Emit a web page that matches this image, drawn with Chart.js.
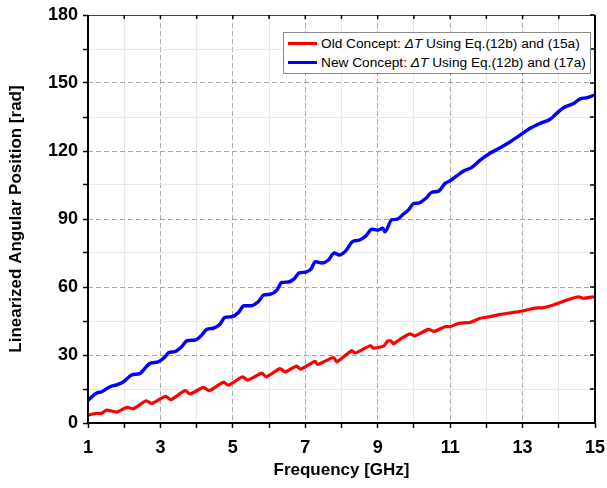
<!DOCTYPE html>
<html>
<head>
<meta charset="utf-8">
<script src="https://cdn.jsdelivr.net/npm/chart.js@4.4.1/dist/chart.umd.min.js"></script>
<style>
    html, body { margin: 0; padding: 0; background: #fff; }
    #wrap { position: relative; width: 607px; height: 488px; }
    #legend {
        position: absolute; left: 283px; top: 32px; width: 306px; height: 40px;
        border: 1px solid #8a8a8a; background: #fff;
        font-family: "Liberation Sans", Arial, sans-serif; font-size: 13.7px; color: #000;
        white-space: nowrap;
    }
    #legend .row { display: flex; align-items: center; height: 19px; padding-left: 4px; }
    #legend .row:first-child { margin-top: 1px; }
    #legend .swatch { width: 29px; height: 3px; margin-right: 4px; flex: none; }
</style>
</head>
<body>
<div id="wrap">
    <canvas id="chart" width="607" height="488"></canvas>
    <div id="legend"></div>
</div>
<script>
// 数据
const labelOld = 'Old Concept: ΔT Using Eq.(12b) and (15a)';
const labelNew = 'New Concept: ΔT Using Eq.(12b) and (17a)';

const freqNew = [1.00, 1.24, 1.38, 1.61, 1.79, 1.98, 2.21, 2.44, 2.57, 2.71, 2.94, 3.13, 3.22, 3.40, 3.59, 3.73, 3.96,
    4.14, 4.28, 4.46, 4.65, 4.78, 4.97, 5.15, 5.31, 5.49, 5.70, 5.86, 6.03, 6.21, 6.35, 6.53, 6.70, 6.83, 7.02, 7.16,
    7.28, 7.46, 7.64, 7.80, 7.94, 8.12, 8.31, 8.49, 8.67, 8.84, 9.00, 9.14, 9.20, 9.39, 9.53, 9.71, 9.85, 9.99, 10.13,
    10.34, 10.49, 10.68, 10.86, 11.00, 11.18, 11.37, 11.60, 11.83, 12.10, 12.38, 12.66, 12.93, 13.21, 13.49, 13.76,
    13.94, 14.13, 14.41, 14.59, 14.77, 15.00];
const valNew = [10.0, 13.2, 13.8, 16.0, 16.8, 18.2, 21.2, 21.9, 24.1, 26.3, 27.0, 29.2, 31.0, 31.5, 33.7, 36.3, 36.6,
    38.8, 41.3, 41.8, 43.7, 46.6, 46.9, 48.7, 51.7, 51.7, 53.5, 56.5, 56.8, 58.5, 62.0, 62.2, 63.7, 66.2, 66.6, 68.0,
    71.2, 70.6, 71.9, 75.0, 74.1, 76.0, 80.1, 80.7, 82.5, 85.5, 85.1, 85.9, 84.4, 89.7, 89.9, 92.2, 94.0, 96.8, 97.0,
    99.3, 101.8, 102.3, 105.7, 106.9, 109.0, 111.2, 112.8, 116.0, 119.0, 121.4, 124.1, 127.0, 130.0, 132.2, 134.0,
    136.6, 139.1, 141.0, 143.0, 143.5, 144.8];

const freqOld = [1.00, 1.24, 1.38, 1.52, 1.79, 2.07, 2.25, 2.61, 2.76, 3.14, 3.29, 3.68, 3.82, 4.19, 4.35, 4.74, 4.88,
    5.27, 5.41, 5.80, 5.92, 6.30, 6.44, 6.76, 6.87, 7.27, 7.34, 7.78, 7.87, 8.28, 8.38, 8.79, 8.88, 9.16, 9.27, 9.37,
    9.43, 9.66, 9.89, 10.03, 10.40, 10.56, 10.86, 11.00, 11.23, 11.55, 11.83, 12.10, 12.38, 12.75, 13.02, 13.30,
    13.57, 13.76, 14.04, 14.31, 14.54, 14.68, 14.96, 15.00];
const valOld = [3.5, 4.3, 4.3, 5.7, 4.8, 6.9, 6.3, 9.8, 8.6, 11.8, 10.3, 14.3, 12.8, 15.7, 14.3, 18.0, 16.7,
    20.4, 18.9, 22.0, 20.3, 24.0, 22.5, 25.1, 23.7, 27.2, 25.8, 28.9, 27.0, 31.9, 30.9, 34.1, 33.0, 33.9, 36.0, 36.2,
    35.0, 37.4, 39.3, 38.4, 41.3, 40.4, 42.5, 42.5, 43.9, 44.4, 46.2, 46.9, 47.9, 48.8, 49.5, 50.6,
    50.9, 51.6, 53.2, 54.7, 55.7, 55.0, 55.7, 55.8];

const xMin = 1, xMax = 15, xStep = 1;
const yMin = 0, yMax = 180, yStep = 15;

const toPoints = (xs, ys) => xs.map((x, i) => ({ x: x, y: ys[i] }));

const isMajorX = v => (v - 1) % 2 === 0;
const isMajorY = v => v % 30 === 0;

// 坐标框与内侧刻度
const framePlugin = {
    id: 'frame',
    afterDraw(chart) {
        const { ctx, chartArea: a, scales } = chart;
        ctx.save();
        // 上边框
        ctx.strokeStyle = '#444';
        ctx.lineWidth = 1;
        ctx.beginPath();
        ctx.moveTo(a.left, a.top + 0.5);
        ctx.lineTo(a.right, a.top + 0.5);
        ctx.stroke();
        ctx.strokeStyle = '#000';
        ctx.lineWidth = 2;
        ctx.beginPath();
        ctx.moveTo(a.left, a.top);
        ctx.lineTo(a.left, a.bottom);
        ctx.lineTo(a.right, a.bottom);
        ctx.lineTo(a.right, a.top);
        ctx.stroke();
        ctx.lineWidth = 1.5;
        scales.x.ticks.forEach(t => {
            const px = scales.x.getPixelForValue(t.value);
            ctx.beginPath();
            ctx.moveTo(px, a.top);
            ctx.lineTo(px, a.top + 4);
            ctx.stroke();
        });
        scales.y.ticks.forEach(t => {
            const py = scales.y.getPixelForValue(t.value);
            ctx.beginPath();
            ctx.moveTo(a.right, py);
            ctx.lineTo(a.right - 5, py);
            ctx.stroke();
        });
        ctx.restore();
    }
};

const fontFamily = '"Liberation Sans", Arial, sans-serif';
const titleFont = { family: fontFamily, size: 17, weight: 'bold' };
const tickFont = { family: fontFamily, size: 18, weight: 'bold' };

new Chart(document.getElementById('chart'), {
    type: 'line',
    data: {
        datasets: [
            {
                label: labelOld,
                data: toPoints(freqOld, valOld),
                borderColor: '#ff0000',
                backgroundColor: '#ff0000',
                borderWidth: 3.2,
                pointRadius: 0,
                tension: 0.2
            },
            {
                label: labelNew,
                data: toPoints(freqNew, valNew),
                borderColor: '#0000ff',
                backgroundColor: '#0000ff',
                borderWidth: 3.4,
                pointRadius: 0,
                cubicInterpolationMode: 'monotone'
            }
        ]
    },
    options: {
        responsive: false,
        animation: false,
        layout: { padding: { top: 15, right: 12, left: 0, bottom: 0 } },
        plugins: {
            legend: { display: false },
            tooltip: { enabled: false }
        },
        scales: {
            x: {
                type: 'linear',
                min: xMin,
                max: xMax,
                afterFit: s => { s.height = 65; s.paddingLeft = 0; s.paddingRight = 0; },
                ticks: {
                    stepSize: xStep,
                    autoSkip: false,
                    maxRotation: 0,
                    padding: 9,
                    color: '#000',
                    font: tickFont,
                    callback: v => isMajorX(v) ? String(v) : ''
                },
                grid: {
                    color: c => isMajorX(c.tick.value) ? '#a8a8a8' : '#e8e8e8',
                    lineWidth: 1,
                    tickColor: '#000',
                    tickLength: 5,
                    tickWidth: 1.5
                },
                border: {
                    display: false,
                    dash: c => isMajorX(c.tick.value) ? [5, 3] : []
                },
                title: {
                    display: true,
                    text: 'Frequency [GHz]',
                    color: '#000',
                    font: titleFont,
                    padding: { top: 0, bottom: 7 }
                }
            },
            y: {
                min: yMin,
                max: yMax,
                afterFit: s => { s.width = 88; s.paddingTop = 0; s.paddingBottom = 0; },
                ticks: {
                    stepSize: yStep,
                    autoSkip: false,
                    padding: 5,
                    color: '#000',
                    font: tickFont,
                    callback: v => isMajorY(v) ? String(v) : ''
                },
                grid: {
                    color: c => isMajorY(c.tick.value) ? '#a8a8a8' : '#e8e8e8',
                    lineWidth: 1,
                    tickColor: '#000',
                    tickLength: 5,
                    tickWidth: 1.5
                },
                border: {
                    display: false,
                    dash: c => isMajorY(c.tick.value) ? [5, 3] : []
                },
                title: {
                    display: true,
                    text: 'Linearized Angular Position [rad]',
                    color: '#000',
                    font: titleFont,
                    padding: { top: 6, bottom: 0 }
                }
            }
        }
    },
    plugins: [framePlugin]
});

// 图例（ΔT 用斜体）
const legendEl = document.getElementById('legend');
[[labelOld, '#ff0000'], [labelNew, '#0000ff']].forEach(([text, color]) => {
    const row = document.createElement('div');
    row.className = 'row';
    row.innerHTML = `<span class="swatch" style="background:${color}"></span>` +
        `<span>${text.replace('ΔT', '<i>ΔT</i>')}</span>`;
    legendEl.appendChild(row);
});
</script>
</body>
</html>
